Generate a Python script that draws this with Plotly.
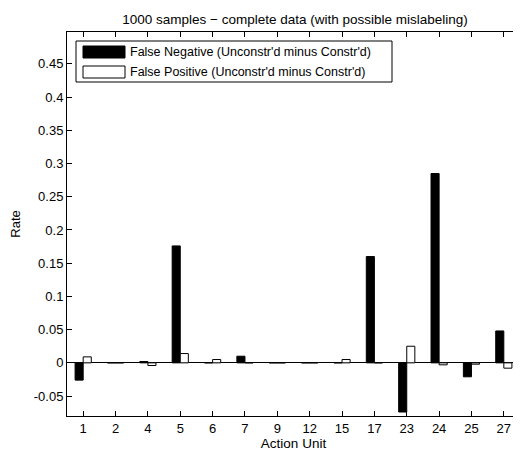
import plotly.graph_objects as go

# Action units on the x axis
action_units = ['1', '2', '4', '5', '6', '7', '9', '12', '15', '17', '23', '24', '25', '27']

# Rate differences
false_negative = [-0.026, 0.0, 0.002, 0.176, 0.0, 0.010, 0.0, 0.0, 0.0, 0.160, -0.074, 0.285, -0.021, 0.048]
false_positive = [0.009, 0.0, -0.004, 0.014, 0.005, 0.0, 0.0, 0.0, 0.005, 0.0, 0.025, -0.003, -0.002, -0.008]

y_ticks = [-0.05, 0, 0.05, 0.1, 0.15, 0.2, 0.25, 0.3, 0.35, 0.4, 0.45]
y_tick_text = ['-0.05', '0', '0.05', '0.1', '0.15', '0.2', '0.25', '0.3', '0.35', '0.4', '0.45']

legend_labels = ["False Negative (Unconstr'd minus Constr'd)",
                 "False Positive (Unconstr'd minus Constr'd)"]

FONT = 'Liberation Sans, Arial, sans-serif'

fig = go.Figure()
fig.add_trace(go.Bar(x=action_units, y=false_negative, name=legend_labels[0],
                     marker=dict(color='black', line=dict(color='black', width=1))))
fig.add_trace(go.Bar(x=action_units, y=false_positive, name=legend_labels[1],
                     marker=dict(color='white', line=dict(color='black', width=1))))

# the page body has an 8px margin, so the figure is drawn 8px smaller
# and everything below is in figure pixels (page pixels minus 8)
FW, FH = 513, 446
L, R, T, B = 59, 512, 24, 408
W, H = R - L, B - T


def px(x):
    return (x - 8 - L) / W


def py(y):
    return (B - (y - 8)) / H


shapes = [
    # legend box
    dict(type='rect', xref='paper', yref='paper', x0=px(76), x1=px(392), y0=py(82), y1=py(41),
         line=dict(color='black', width=1), fillcolor='white'),
    dict(type='rect', xref='paper', yref='paper', x0=px(83), x1=px(125), y0=py(58), y1=py(46),
         line=dict(color='black', width=1), fillcolor='black'),
    dict(type='rect', xref='paper', yref='paper', x0=px(83), x1=px(125), y0=py(78), y1=py(66),
         line=dict(color='black', width=1), fillcolor='white'),
]
annotations = [
    dict(xref='paper', yref='paper', x=px(128), y=py(52), text=legend_labels[0], showarrow=False,
         xanchor='left', yanchor='middle', font=dict(size=12.5, color='black', family=FONT)),
    dict(xref='paper', yref='paper', x=px(128), y=py(72), text=legend_labels[1], showarrow=False,
         xanchor='left', yanchor='middle', font=dict(size=12.5, color='black', family=FONT)),
]

fig.update_layout(
    width=FW, height=FH,
    margin=dict(l=L, r=FW - R, t=T, b=FH - B),
    paper_bgcolor='white', plot_bgcolor='white',
    barmode='group', bargap=0.5, bargroupgap=0,
    showlegend=False,
    font=dict(family=FONT, size=12, color='black'),
    title=dict(text='1000 samples \u2212 complete data (with possible mislabeling)',
               x=(295 - 8) / FW, xanchor='center', y=1 - (19 - 8) / FH, yanchor='middle',
               font=dict(size=13.5, color='black', family=FONT)),
    shapes=shapes,
    annotations=annotations,
)
fig.update_xaxes(
    type='category', range=[-0.5, 13.5],
    showline=True, linecolor='black', linewidth=1, mirror='allticks',
    ticks='inside', ticklen=5, tickcolor='black', showgrid=False,
    tickfont=dict(size=13), title=dict(text='Action Unit', font=dict(size=13.5), standoff=2),
)
fig.update_yaxes(
    range=[-0.08, 0.498],
    tickvals=y_ticks, ticktext=y_tick_text,
    showline=True, linecolor='black', linewidth=1, mirror='allticks',
    ticks='inside', ticklen=5, tickcolor='black', showgrid=False,
    zeroline=True, zerolinecolor='black', zerolinewidth=1,
    tickfont=dict(size=13), title=dict(text='Rate', font=dict(size=13), standoff=10),
)

fig.write_html("out.html")
